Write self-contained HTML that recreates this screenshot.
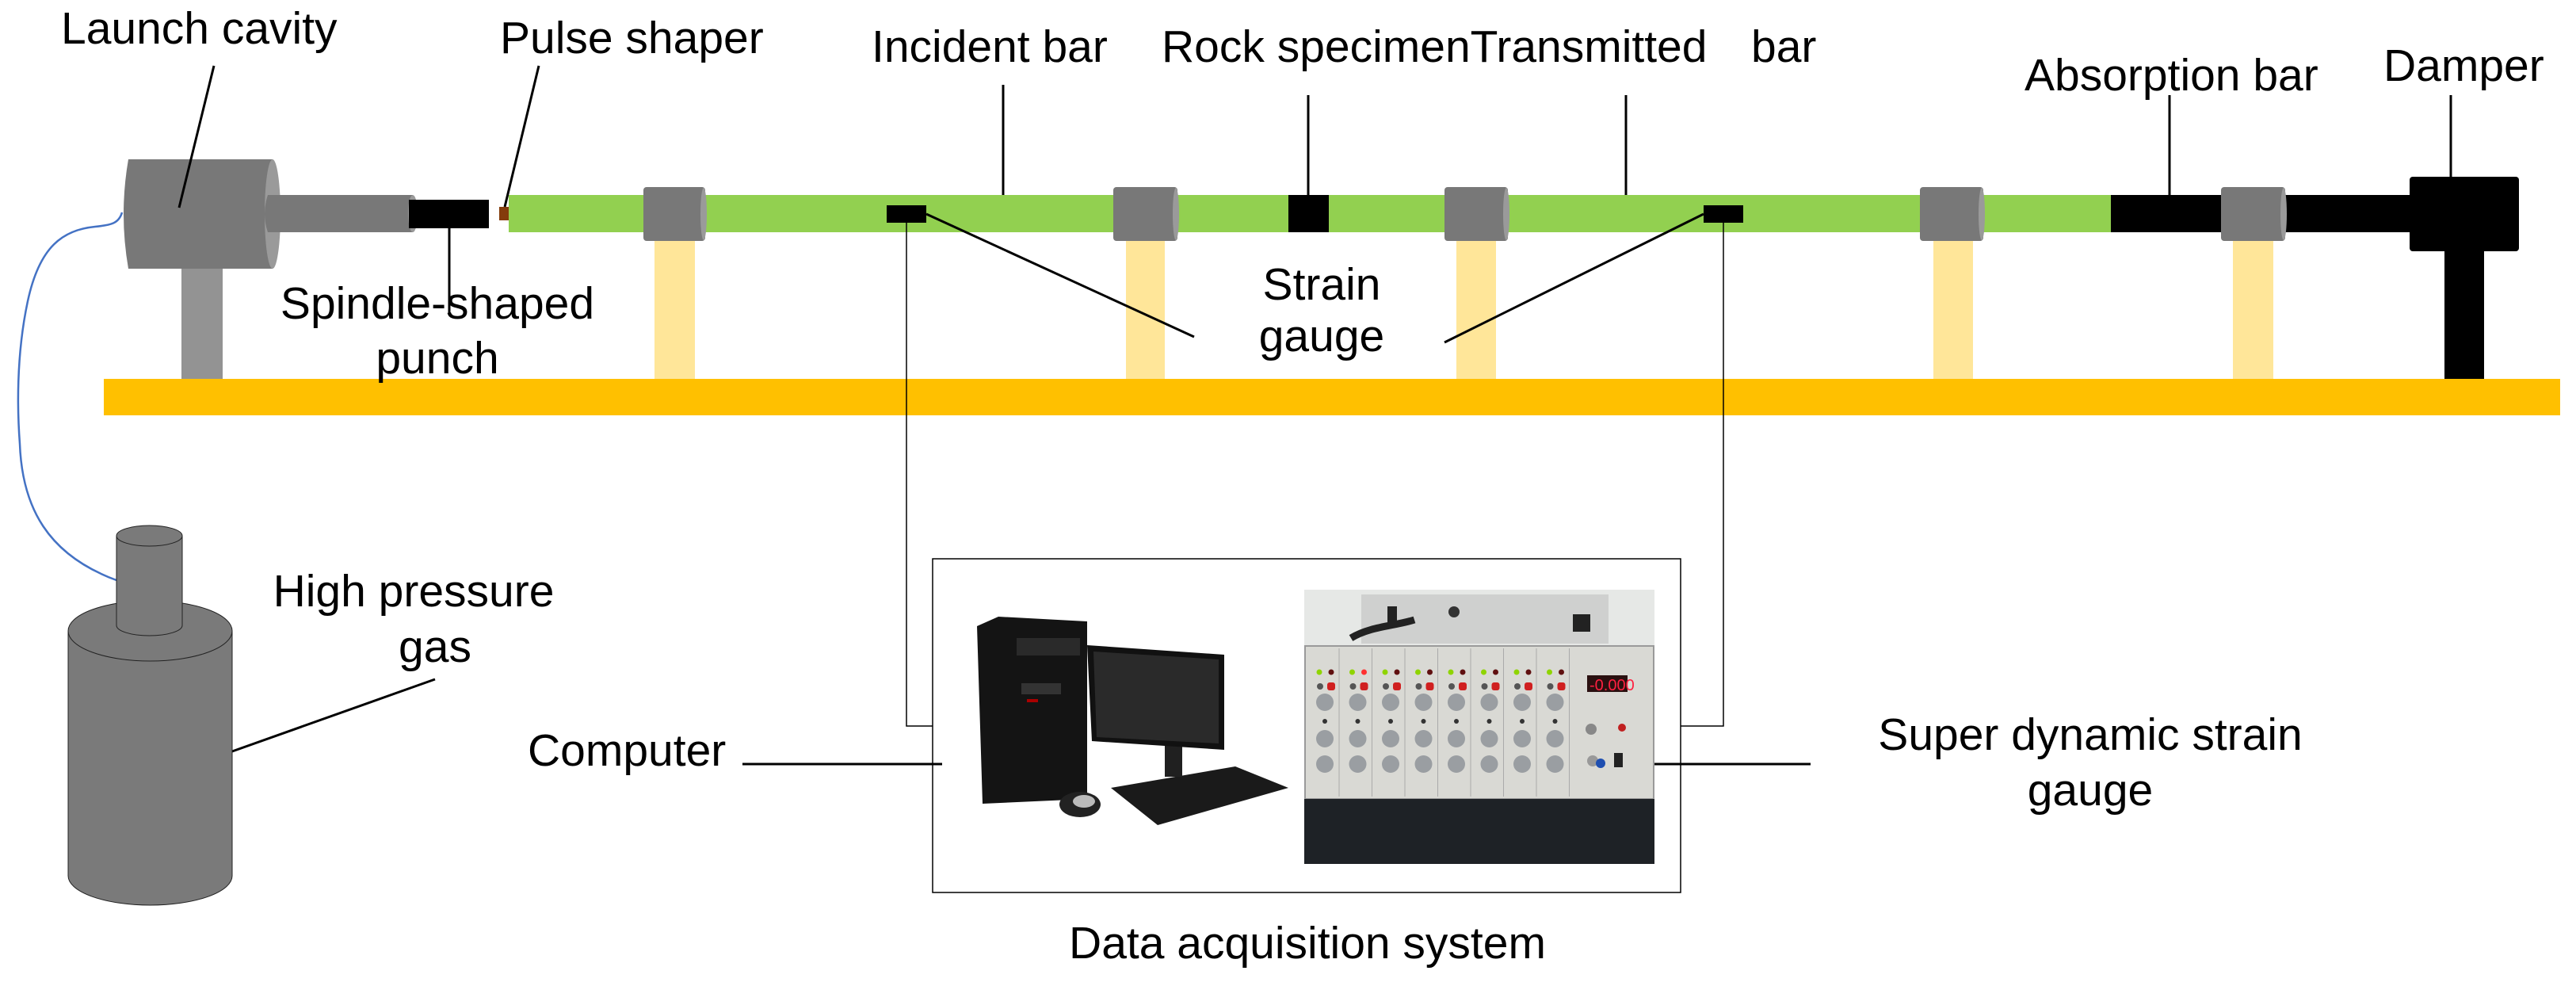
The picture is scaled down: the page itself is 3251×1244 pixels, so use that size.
<!DOCTYPE html>
<html><head><meta charset="utf-8"><style>
html,body{margin:0;padding:0;background:#fff;}
svg{display:block;}
text{font-family:"Liberation Sans",Arial,sans-serif;font-size:57px;fill:#000;}
</style></head><body>
<svg id="s" width="3251" height="1244" viewBox="0 0 3251 1244" xmlns="http://www.w3.org/2000/svg">
<rect x="131" y="478" width="3100" height="46" fill="#ffc000"/>
<rect x="229" y="339" width="52" height="139" fill="#939393"/>
<rect x="826" y="300" width="51" height="178" fill="#ffe699"/>
<rect x="1421" y="300" width="49" height="178" fill="#ffe699"/>
<rect x="1838" y="300" width="50" height="178" fill="#ffe699"/>
<rect x="2440" y="300" width="50" height="178" fill="#ffe699"/>
<rect x="2818" y="300" width="51" height="178" fill="#ffe699"/>
<rect x="3085" y="317" width="50" height="161" fill="#000"/>
<path d="M154,268 C150,282 140,284 120,286 C80,290 50,310 35,380 C20,450 22,520 25,560 C28,640 60,700 147,732" fill="none" stroke="#4472c4" stroke-width="2.5"/>
<path d="M162,201 L344,201 L344,339 L162,339 Q150,270 162,201 Z" fill="#787878"/>
<ellipse cx="344" cy="270" rx="10" ry="69" fill="#9a9a9a"/>
<path d="M338,246 L521,246 L521,293 L338,293 Q330,270 338,246 Z" fill="#787878"/>
<ellipse cx="521" cy="269.5" rx="6" ry="23.5" fill="#9a9a9a"/>
<rect x="516" y="252" width="101" height="36" fill="#000"/>
<rect x="630" y="261" width="12" height="17" fill="#843c0c"/>
<rect x="642" y="246" width="2022" height="47" fill="#92d050"/>
<rect x="2664" y="246" width="400" height="47" fill="#000"/>
<rect x="1626" y="246" width="51" height="47" fill="#000"/>
<rect x="3041" y="223" width="138" height="94" rx="4" fill="#000"/>
<g fill="#787878">
<rect x="812" y="236" width="78" height="68" rx="4"/>
<rect x="1405" y="236" width="81" height="68" rx="4"/>
<rect x="1823" y="236" width="80" height="68" rx="4"/>
<rect x="2423" y="236" width="80" height="68" rx="4"/>
<rect x="2803" y="236" width="81" height="68" rx="4"/>
</g>
<g fill="#9a9a9a">
<ellipse cx="888" cy="270" rx="4" ry="33"/>
<ellipse cx="1484" cy="270" rx="4" ry="33"/>
<ellipse cx="1901" cy="270" rx="4" ry="33"/>
<ellipse cx="2501" cy="270" rx="4" ry="33"/>
<ellipse cx="2882" cy="270" rx="4" ry="33"/>
</g>
<rect x="1119" y="259" width="50" height="22" fill="#000"/>
<rect x="2150" y="259" width="50" height="22" fill="#000"/>
<g stroke="#000" stroke-width="3" fill="none">
<line x1="270" y1="83" x2="226" y2="262"/>
<line x1="680" y1="83" x2="637" y2="261"/>
<line x1="567" y1="288" x2="567" y2="395"/>
<line x1="1266" y1="107" x2="1266" y2="246"/>
<line x1="1651" y1="120" x2="1651" y2="246"/>
<line x1="2052" y1="120" x2="2052" y2="246"/>
<line x1="2738" y1="120" x2="2738" y2="246"/>
<line x1="3093" y1="120" x2="3093" y2="223"/>
<line x1="1169" y1="270" x2="1507" y2="425"/>
<line x1="2150" y1="270" x2="1823" y2="432"/>
<line x1="549" y1="857" x2="293" y2="948"/>
<line x1="937" y1="964" x2="1189" y2="964"/>
<line x1="2088" y1="964" x2="2285" y2="964"/>
</g>
<g stroke="#000" stroke-width="1.5" fill="none">
<polyline points="1144,281 1144,916 1177,916"/>
<polyline points="2175,281 2175,916 2121,916"/>
<rect x="1177" y="705" width="944" height="421"/>
</g>
<g fill="#7a7a7a" stroke="#222" stroke-width="1">
<path d="M86,796 L86,1105 A103.5,37 0 0 0 293,1105 L293,796 Z"/>
<ellipse cx="189.5" cy="796" rx="103.5" ry="38"/>
<path d="M147,676 L147,789 A41.5,13 0 0 0 230,789 L230,676 Z"/>
<ellipse cx="188.5" cy="676" rx="41.5" ry="13"/>
</g>
<g>
<path d="M1402,994 L1559,967 L1626,994 L1461,1041 Z" fill="#1a1a1a"/>
<rect x="1470" y="940" width="22" height="40" fill="#202020"/>
<path d="M1372,814 L1545,826 L1545,946 L1378,935 Z" fill="#111"/>
<path d="M1380,822 L1538,832 L1538,938 L1384,930 Z" fill="#2a2a2a"/>
<path d="M1233,790 L1260,778 L1372,784 L1372,1008 L1240,1014 Z" fill="#141414"/>
<rect x="1283" y="805" width="80" height="22" fill="#2a2a2a"/>
<rect x="1289" y="862" width="50" height="14" fill="#333"/>
<rect x="1296" y="882" width="14" height="4" fill="#a00"/>
<ellipse cx="1363" cy="1015" rx="26" ry="16" fill="#222"/>
<ellipse cx="1368" cy="1011" rx="14" ry="8" fill="#bbb"/>
</g>
<g id="dev">
<rect x="1646" y="744" width="442" height="346" fill="#e6e8e6"/>
<rect x="1718" y="750" width="312" height="62" fill="#cfd0cf"/>
<rect x="1751" y="765" width="12" height="20" fill="#222"/>
<circle cx="1835" cy="772" r="7" fill="#333"/>
<rect x="1985" y="775" width="22" height="22" fill="#222"/>
<path d="M1705,805 C1730,790 1760,790 1785,782" stroke="#222" stroke-width="9" fill="none"/>
<rect x="1647" y="815" width="440" height="193" fill="#d9d9d4" stroke="#9a9a9a" stroke-width="2"/>
<rect x="1646" y="1008" width="442" height="82" fill="#1e2226"/>
<rect x="2003" y="852" width="51" height="21" fill="#2a1010"/>
<text x="2006" y="871" style="font-size:20px;fill:#ff2040">-0.000</text>
<circle cx="2008" cy="920" r="7" fill="#888"/>
<circle cx="2047" cy="918" r="5" fill="#c02020"/>
<circle cx="2010" cy="960" r="7" fill="#999"/>
<circle cx="2020" cy="963" r="6" fill="#1f4fb0"/>
<rect x="2037" y="950" width="11" height="18" fill="#222"/>
</g>
<text x="77" y="55">Launch cavity</text>
<text x="631" y="67">Pulse shaper</text>
<text x="1100" y="78">Incident bar</text>
<text x="1466" y="78">Rock specimenTransmitted</text>
<text x="2210" y="78">bar</text>
<text x="2555" y="114">Absorption bar</text>
<text x="3008" y="102">Damper</text>
<text x="552" y="402" text-anchor="middle">Spindle-shaped</text>
<text x="552" y="471" text-anchor="middle">punch</text>
<text x="1668" y="378" text-anchor="middle">Strain</text>
<text x="1668" y="443" text-anchor="middle">gauge</text>
<text x="522" y="765" text-anchor="middle">High pressure</text>
<text x="549" y="835" text-anchor="middle">gas</text>
<text x="666" y="966">Computer</text>
<text x="2638" y="946" text-anchor="middle">Super dynamic strain</text>
<text x="2638" y="1016" text-anchor="middle">gauge</text>
<text x="1650" y="1209" text-anchor="middle">Data acquisition system</text>
</svg>
<script>
(function(){
var s=document.getElementById('dev'),ns='http://www.w3.org/2000/svg';
function el(t,a){var e=document.createElementNS(ns,t);for(var k in a)e.setAttribute(k,a[k]);s.appendChild(e);}
for(var i=0;i<8;i++){
 var x=1650+i*41.5;
 el('line',{x1:x+40,y1:818,x2:x+40,y2:1005,stroke:'#aaa','stroke-width':1});
 el('circle',{cx:x+15,cy:848,r:3.5,fill:'#8fd400'});
 el('circle',{cx:x+30,cy:848,r:3.5,fill:i==1?'#ff3030':'#601010'});
 el('circle',{cx:x+16,cy:866,r:4,fill:'#555'});
 el('rect',{x:x+25,y:861,width:10,height:10,rx:3,fill:'#d02020'});
 [886,932,964].forEach(function(y){el('circle',{cx:x+22,cy:y,r:11,fill:'#9a9ea2'});});
 el('circle',{cx:x+22,cy:910,r:3,fill:'#333'});
}
})();
</script>
</body></html>
